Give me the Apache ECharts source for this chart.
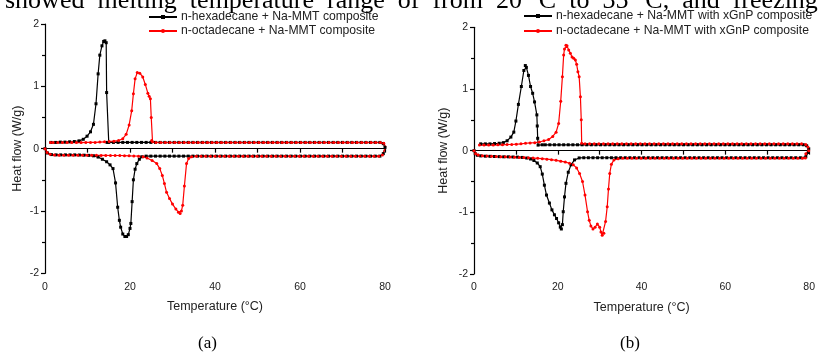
<!DOCTYPE html>
<html><head><meta charset="utf-8">
<script src="https://cdn.jsdelivr.net/npm/echarts@6/dist/echarts.min.js"></script>
<style>html,body{margin:0;padding:0;background:#fff}#c{width:818px;height:355px}</style>
</head><body><div id="c"></div>
<script>
var namesA = ['n-hexadecane + Na-MMT composite', 'n-octadecane + Na-MMT composite'];
var namesB = ['n-hexadecane + Na-MMT with xGnP composite', 'n-octadecane + Na-MMT with xGnP composite'];
var xTicks = [0, 20, 40, 60, 80];
var yTicks = [-2, -1, 0, 1, 2];

var hexA = [[0,0],[0.6,-0.07],[1.5,-0.095],[2.6,-0.1],[3.7,-0.1],[4.8,-0.1],[5.9,-0.1],[7.0,-0.1],[8.1,-0.102],[9.2,-0.105],[10.3,-0.108],[11.4,-0.115],[12.5,-0.135],[13.5,-0.17],[14.5,-0.21],[15.3,-0.26],[16.0,-0.32],[16.6,-0.55],[17.1,-0.94],[17.5,-1.15],[17.8,-1.26],[18.3,-1.37],[18.8,-1.41],[19.2,-1.41],[19.6,-1.38],[20.0,-1.28],[20.2,-1.2],[20.5,-0.85],[20.8,-0.5],[21.2,-0.33],[21.6,-0.24],[22.2,-0.17],[22.8,-0.13],
[23.8,-0.12],[24.9,-0.12],[26.0,-0.12],[27.1,-0.12],[28.2,-0.12],[29.3,-0.12],[30.4,-0.12],[31.5,-0.12],[32.6,-0.12],[33.7,-0.12],[34.8,-0.12],[35.9,-0.12],[37.0,-0.12],[38.1,-0.12],[39.2,-0.12],[40.3,-0.12],[41.4,-0.12],[42.5,-0.12],[43.6,-0.12],[44.7,-0.12],[45.8,-0.12],[46.9,-0.12],[48.0,-0.12],[49.1,-0.12],[50.2,-0.12],[51.3,-0.12],[52.4,-0.12],[53.5,-0.12],[54.6,-0.12],[55.7,-0.12],[56.8,-0.12],[57.9,-0.12],[59.0,-0.12],[60.1,-0.12],[61.2,-0.12],[62.3,-0.12],[63.4,-0.12],[64.5,-0.12],[65.6,-0.12],[66.7,-0.12],[67.8,-0.12],[68.9,-0.12],[70.0,-0.12],[71.1,-0.12],[72.2,-0.12],[73.3,-0.12],[74.4,-0.12],[75.5,-0.12],[76.6,-0.12],[77.7,-0.12],[78.8,-0.12],
[79.6,-0.08],[80.0,0.02],[79.6,0.08],[78.8,0.1],
[77.7,0.1],[76.6,0.1],[75.5,0.1],[74.4,0.1],[73.3,0.1],[72.2,0.1],[71.1,0.1],[70.0,0.1],[68.9,0.1],[67.8,0.1],[66.7,0.1],[65.6,0.1],[64.5,0.1],[63.4,0.1],[62.3,0.1],[61.2,0.1],[60.1,0.1],[59.0,0.1],[57.9,0.1],[56.8,0.1],[55.7,0.1],[54.6,0.1],[53.5,0.1],[52.4,0.1],[51.3,0.1],[50.2,0.1],[49.1,0.1],[48.0,0.1],[46.9,0.1],[45.8,0.1],[44.7,0.1],[43.6,0.1],[42.5,0.1],[41.4,0.1],[40.3,0.1],[39.2,0.1],[38.1,0.1],[37.0,0.1],[35.9,0.1],[34.8,0.1],[33.7,0.1],[32.6,0.1],[31.5,0.1],[30.4,0.1],[29.3,0.1],[28.2,0.1],[27.1,0.1],[26.0,0.1],[24.9,0.1],[23.8,0.1],[22.7,0.1],[21.6,0.1],[20.5,0.1],[19.4,0.1],[18.3,0.1],[17.2,0.1],[16.1,0.1],[15.0,0.1],
[14.6,0.1],[14.5,0.9],[14.4,1.7],[14.1,1.73],[13.8,1.72],[13.4,1.65],[12.9,1.5],[12.5,1.2],[12.0,0.72],[11.4,0.39],[10.7,0.27],[9.9,0.2],[9.0,0.15],[8.0,0.125],[6.9,0.115],[5.8,0.11],[4.7,0.105],[3.6,0.105],[2.5,0.1],[1.4,0.1]];

var octA = [[0,0],[0.5,-0.06],[1.2,-0.09],[2.2,-0.1],[3.3,-0.105],[4.4,-0.105],[5.5,-0.105],[6.6,-0.105],[7.7,-0.105],[8.8,-0.105],[9.9,-0.105],[11.0,-0.107],[12.1,-0.107],[13.2,-0.108],[14.3,-0.108],[15.4,-0.11],[16.5,-0.11],[17.6,-0.11],[18.7,-0.112],[19.8,-0.115],[20.9,-0.118],[22.0,-0.12],[23.1,-0.13],[24.0,-0.15],[25.2,-0.19],[26.3,-0.24],[27.0,-0.32],[27.6,-0.43],[28.1,-0.56],[28.6,-0.7],[29.3,-0.8],[30.0,-0.89],[30.8,-0.97],[31.4,-1.02],[31.8,-1.04],[32.1,-1.0],[32.4,-0.91],[32.8,-0.6],[33.3,-0.24],[33.8,-0.16],[34.5,-0.13],
[35.6,-0.122],[36.7,-0.122],[37.8,-0.122],[38.9,-0.122],[40.0,-0.122],[41.1,-0.122],[42.2,-0.122],[43.3,-0.122],[44.4,-0.122],[45.5,-0.122],[46.6,-0.122],[47.7,-0.122],[48.8,-0.122],[49.9,-0.122],[51.0,-0.122],[52.1,-0.122],[53.2,-0.122],[54.3,-0.122],[55.4,-0.122],[56.5,-0.122],[57.6,-0.122],[58.7,-0.122],[59.8,-0.122],[60.9,-0.122],[62.0,-0.122],[63.1,-0.122],[64.2,-0.122],[65.3,-0.122],[66.4,-0.122],[67.5,-0.122],[68.6,-0.122],[69.7,-0.122],[70.8,-0.122],[71.9,-0.122],[73.0,-0.122],[74.1,-0.122],[75.2,-0.122],[76.3,-0.122],[77.4,-0.122],[78.5,-0.122],
[79.4,-0.1],[80.2,0.03],[79.7,0.085],[78.9,0.097],
[77.8,0.097],[76.7,0.097],[75.6,0.097],[74.5,0.097],[73.4,0.097],[72.3,0.097],[71.2,0.097],[70.1,0.097],[69.0,0.097],[67.9,0.097],[66.8,0.097],[65.7,0.097],[64.6,0.097],[63.5,0.097],[62.4,0.097],[61.3,0.097],[60.2,0.097],[59.1,0.097],[58.0,0.097],[56.9,0.097],[55.8,0.097],[54.7,0.097],[53.6,0.097],[52.5,0.097],[51.4,0.097],[50.3,0.097],[49.2,0.097],[48.1,0.097],[47.0,0.097],[45.9,0.097],[44.8,0.097],[43.7,0.097],[42.6,0.097],[41.5,0.097],[40.4,0.097],[39.3,0.097],[38.2,0.097],[37.1,0.097],[36.0,0.097],[34.9,0.097],[33.8,0.097],[32.7,0.097],[31.6,0.097],[30.5,0.097],[29.4,0.097],[28.3,0.097],[27.2,0.097],[26.1,0.1],
[25.3,0.11],[25.1,0.13],[25.0,0.5],[24.8,0.8],[24.5,0.84],[24.2,0.89],[23.6,1.03],[23.0,1.15],[22.3,1.21],[21.7,1.22],[21.2,1.12],[20.8,0.88],[20.4,0.61],[19.8,0.38],[19.1,0.23],[18.3,0.16],[17.3,0.13],[16.2,0.12],[15.1,0.115],[14.0,0.11],[12.9,0.105],[11.8,0.1],[10.7,0.1],[9.6,0.1],[8.5,0.097],[7.4,0.097],[6.3,0.097],[5.2,0.097],[4.1,0.097],[3.0,0.097],[1.9,0.097],[1.3,0.097]];

var hexB = [[0,0],[0.3,-0.05],[0.8,-0.075],[1.6,-0.085],[2.7,-0.09],[3.8,-0.092],[4.9,-0.095],[6.0,-0.097],[7.1,-0.1],[8.2,-0.1],[9.3,-0.103],[10.4,-0.105],[11.5,-0.11],[12.6,-0.12],[13.5,-0.135],[14.3,-0.16],[15.1,-0.2],[15.8,-0.26],[16.3,-0.38],[16.8,-0.56],[17.3,-0.72],[18.0,-0.85],[18.6,-0.96],[19.2,-1.04],[19.7,-1.1],[20.2,-1.17],[20.6,-1.24],[20.85,-1.27],[21.1,-1.2],[21.3,-0.99],[21.6,-0.75],[21.95,-0.53],[22.5,-0.35],[23.15,-0.23],[24.0,-0.15],[25.1,-0.118],
[26.2,-0.115],[27.3,-0.115],[28.4,-0.115],[29.5,-0.115],[30.6,-0.115],[31.7,-0.115],[32.8,-0.115],[33.9,-0.115],[35.0,-0.115],[36.1,-0.115],[37.2,-0.115],[38.3,-0.115],[39.4,-0.115],[40.5,-0.115],[41.6,-0.115],[42.7,-0.115],[43.8,-0.115],[44.9,-0.115],[46.0,-0.115],[47.1,-0.115],[48.2,-0.115],[49.3,-0.115],[50.4,-0.115],[51.5,-0.115],[52.6,-0.115],[53.7,-0.115],[54.8,-0.115],[55.9,-0.115],[57.0,-0.115],[58.1,-0.115],[59.2,-0.115],[60.3,-0.115],[61.4,-0.115],[62.5,-0.115],[63.6,-0.115],[64.7,-0.115],[65.8,-0.115],[66.9,-0.115],[68.0,-0.115],[69.1,-0.115],[70.2,-0.115],[71.3,-0.115],[72.4,-0.115],[73.5,-0.115],[74.6,-0.115],[75.7,-0.115],[76.8,-0.115],[77.9,-0.115],
[79.2,-0.1],[79.8,-0.03],[79.9,0.03],[79.4,0.08],[78.6,0.095],
[77.5,0.095],[76.4,0.095],[75.3,0.095],[74.2,0.095],[73.1,0.095],[72.0,0.095],[70.9,0.095],[69.8,0.095],[68.7,0.095],[67.6,0.095],[66.5,0.095],[65.4,0.095],[64.3,0.095],[63.2,0.095],[62.1,0.095],[61.0,0.095],[59.9,0.095],[58.8,0.095],[57.7,0.095],[56.6,0.095],[55.5,0.095],[54.4,0.095],[53.3,0.095],[52.2,0.095],[51.1,0.095],[50.0,0.095],[48.9,0.095],[47.8,0.095],[46.7,0.095],[45.6,0.095],[44.5,0.095],[43.4,0.095],[42.3,0.095],[41.2,0.095],[40.1,0.095],[39.0,0.095],[37.9,0.095],[36.8,0.095],[35.7,0.095],[34.6,0.095],[33.5,0.095],[32.4,0.095],[31.3,0.095],[30.2,0.095],[29.1,0.095],[28.0,0.095],[26.9,0.095],[25.8,0.095],[24.7,0.095],[23.6,0.095],[22.5,0.095],[21.4,0.095],[20.3,0.095],[19.2,0.095],[18.1,0.095],[17.0,0.095],[16.3,0.095],
[15.3,0.09],[15.2,0.2],[15.1,0.4],[15.0,0.58],[14.45,0.79],[14.0,0.93],[13.5,1.04],[13.0,1.22],[12.5,1.35],[12.25,1.38],[11.9,1.3],[11.3,1.04],[10.6,0.75],[10.0,0.48],[9.5,0.3],[8.8,0.22],[7.9,0.16],[7.0,0.13],[6.0,0.12],[4.9,0.115],[3.8,0.11],[2.7,0.11],[1.6,0.11]];

var octB = [[0,0],[0.4,-0.05],[1.0,-0.07],[2.0,-0.082],[3.1,-0.088],[4.2,-0.092],[5.3,-0.095],[6.4,-0.098],[7.5,-0.1],[8.6,-0.103],[9.7,-0.106],[10.8,-0.11],[11.9,-0.113],[13.0,-0.117],[14.1,-0.12],[15.2,-0.125],[16.3,-0.13],[17.4,-0.138],[18.5,-0.147],[19.6,-0.157],[20.7,-0.17],[21.8,-0.185],[22.8,-0.205],[23.7,-0.23],[24.5,-0.28],[25.2,-0.37],[25.9,-0.5],[26.5,-0.72],[27.1,-0.99],[27.5,-1.13],[27.9,-1.22],[28.4,-1.27],[28.9,-1.24],[29.45,-1.19],[30.0,-1.24],[30.3,-1.32],[30.6,-1.37],[31.0,-1.34],[31.4,-1.15],[31.8,-0.91],[32.1,-0.62],[32.4,-0.37],[32.8,-0.22],[33.4,-0.15],[34.4,-0.13],
[35.5,-0.125],[36.6,-0.125],[37.7,-0.125],[38.8,-0.125],[39.9,-0.125],[41.0,-0.125],[42.1,-0.125],[43.2,-0.125],[44.3,-0.125],[45.4,-0.125],[46.5,-0.125],[47.6,-0.125],[48.7,-0.125],[49.8,-0.125],[50.9,-0.125],[52.0,-0.125],[53.1,-0.125],[54.2,-0.125],[55.3,-0.125],[56.4,-0.125],[57.5,-0.125],[58.6,-0.125],[59.7,-0.125],[60.8,-0.125],[61.9,-0.125],[63.0,-0.125],[64.1,-0.125],[65.2,-0.125],[66.3,-0.125],[67.4,-0.125],[68.5,-0.125],[69.6,-0.125],[70.7,-0.125],[71.8,-0.125],[72.9,-0.125],[74.0,-0.125],[75.1,-0.125],[76.2,-0.125],[77.3,-0.125],[78.4,-0.125],
[79.1,-0.12],[79.2,-0.05],[79.9,0.0],[79.7,0.06],[79.2,0.1],[78.2,0.11],
[77.1,0.11],[76.0,0.11],[74.9,0.11],[73.8,0.11],[72.7,0.11],[71.6,0.11],[70.5,0.11],[69.4,0.11],[68.3,0.11],[67.2,0.11],[66.1,0.11],[65.0,0.11],[63.9,0.11],[62.8,0.11],[61.7,0.11],[60.6,0.11],[59.5,0.11],[58.4,0.11],[57.3,0.11],[56.2,0.11],[55.1,0.11],[54.0,0.11],[52.9,0.11],[51.8,0.11],[50.7,0.11],[49.6,0.11],[48.5,0.11],[47.4,0.11],[46.3,0.11],[45.2,0.11],[44.1,0.11],[43.0,0.11],[41.9,0.11],[40.8,0.11],[39.7,0.11],[38.6,0.11],[37.5,0.11],[36.4,0.11],[35.3,0.11],[34.2,0.11],[33.1,0.11],[32.0,0.11],[30.9,0.11],[29.8,0.11],[28.7,0.11],[27.6,0.11],[26.5,0.11],
[25.7,0.12],[25.6,0.5],[25.4,0.875],[25.1,1.2],[24.8,1.28],[24.5,1.4],[24.2,1.47],[23.8,1.5],[23.4,1.52],[23.0,1.58],[22.6,1.63],[22.2,1.7],[21.95,1.71],[21.6,1.65],[21.4,1.55],[21.1,1.2],[20.7,0.8],[20.2,0.44],[19.6,0.3],[18.8,0.23],[17.8,0.18],[16.7,0.16],[15.6,0.14],[14.5,0.13],[13.4,0.125],[12.3,0.12],[11.2,0.11],[10.1,0.105],[9.0,0.1],[7.9,0.1],[6.8,0.095],[5.7,0.095],[4.6,0.09],[3.5,0.09],[2.4,0.09],[1.3,0.09]];

var FONT = 'Liberation Sans';
function xAx(i){return {type:'value',gridIndex:i,min:xTicks[0],max:xTicks[xTicks.length-1],interval:20,
  name:'Temperature (\u00B0C)',nameLocation:'middle',nameGap:27,nameTextStyle:{fontFamily:FONT,fontSize:12.5,color:'#222'},
  axisLine:{show:true,lineStyle:{color:'#000',width:1.2}},axisTick:{show:true,length:4,lineStyle:{color:'#000',width:1.2}},
  minorTick:{show:true,splitNumber:2,length:4,lineStyle:{color:'#000',width:1.2}},
  axisLabel:{fontFamily:FONT,fontSize:10.5,color:'#222',margin:8},splitLine:{show:false}};}
function yAx(i,gap){return {type:'value',gridIndex:i,min:yTicks[0],max:yTicks[yTicks.length-1],interval:1,
  name:'Heat flow (W/g)',nameLocation:'middle',nameGap:gap,nameTextStyle:{fontFamily:FONT,fontSize:12.5,color:'#222'},
  axisLine:{show:true,onZero:false,lineStyle:{color:'#000',width:1.2}},axisTick:{show:true,length:4,lineStyle:{color:'#000',width:1.2}},
  minorTick:{show:true,splitNumber:2,length:3,lineStyle:{color:'#000',width:1.2}},
  axisLabel:{fontFamily:FONT,fontSize:10.5,color:'#222',margin:6},splitLine:{show:false}};}
function ser(name,data,color,sym,xi){return {type:'line',name:name,data:data,xAxisIndex:xi,yAxisIndex:xi,
  symbol:sym,symbolSize:3,showSymbol:true,color:color,lineStyle:{color:color,width:1.2},itemStyle:{color:color},
  animation:false,smooth:false,z:2};}
function leg(names,left,top,gap){return {orient:'vertical',left:left,top:top,data:names,itemWidth:28,itemHeight:5,itemGap:gap,
  textStyle:{fontFamily:FONT,fontSize:12.2,color:'#222',padding:[0,0,0,-1]},padding:0,z:5};}

var chart = echarts.init(document.getElementById('c'),null,{renderer:'canvas'});
chart.setOption({
  animation:false,
  backgroundColor:'#fff',
  grid:[{left:45,top:24,width:340,height:249.3},{left:474,top:27.3,width:337.7,height:246.7}],
  xAxis:[xAx(0),xAx(1)],
  yAxis:[yAx(0,21),yAx(1,24)],
  legend:[leg(namesA,148,11,2),leg(namesB,523,10,3)],
  series:[ser(namesA[0],hexA,'#000','rect',0),ser(namesA[1],octA,'#ff0000','circle',0),
          ser(namesB[0],hexB,'#000','rect',1),ser(namesB[1],octB,'#ff0000','circle',1)],
  graphic:[
    {type:'text',left:5,top:-12,z:1,style:{text:'showed  melting  temperature  range  of  from  20 \u00B0C  to  35 \u00B0C,  and  freezing',fontFamily:'Liberation Serif',fontSize:26,fill:'#000'}},
    {type:'text',left:198,top:335,style:{text:'(a)',fontFamily:'Liberation Serif',fontSize:17,fill:'#000'}},
    {type:'text',left:620,top:335,style:{text:'(b)',fontFamily:'Liberation Serif',fontSize:17,fill:'#000'}}
  ]
});
</script></body></html>
